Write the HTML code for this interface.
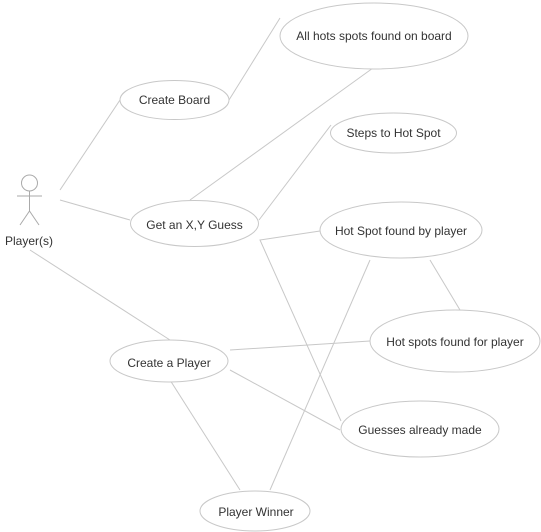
<!DOCTYPE html>
<html><head><style>body{margin:0;background:#fff}svg{display:block}text{font-family:"Liberation Sans",Arial,sans-serif;font-size:12px;fill:#333}</style></head><body>
<svg width="541" height="532" viewBox="0 0 541 532">
<g stroke="#c8c8c8" stroke-width="1" fill="none">
<line x1="60" y1="190" x2="120" y2="100"/>
<line x1="60" y1="200" x2="130" y2="220"/>
<line x1="30" y1="250" x2="170" y2="340"/>
<line x1="229" y1="100" x2="280" y2="18"/>
<line x1="190" y1="200" x2="373" y2="68"/>
<line x1="259" y1="220" x2="331" y2="125"/>
<polyline points="320,231 260,240 341,421"/>
<line x1="370" y1="260" x2="270" y2="490"/>
<line x1="430" y1="260" x2="460" y2="310"/>
<line x1="230" y1="350" x2="370" y2="341"/>
<line x1="230" y1="370" x2="340" y2="430"/>
<line x1="170" y1="380" x2="240" y2="490"/>
</g>
<g stroke="#c8c8c8" stroke-width="1" fill="#fff">
<ellipse cx="174.5" cy="100" rx="54.5" ry="19.5"/>
<ellipse cx="374" cy="36" rx="94" ry="33"/>
<ellipse cx="393.5" cy="133" rx="63" ry="20"/>
<ellipse cx="194.5" cy="223.5" rx="64" ry="23"/>
<ellipse cx="401" cy="230" rx="81" ry="28"/>
<ellipse cx="455" cy="341" rx="85" ry="31"/>
<ellipse cx="169" cy="361" rx="59" ry="21"/>
<ellipse cx="420" cy="429" rx="79" ry="28"/>
<ellipse cx="255" cy="511" rx="55" ry="20"/>
</g>
<g stroke="#aaa" stroke-width="1" fill="none">
<circle cx="29.5" cy="183" r="8"/>
<line x1="29.5" y1="191" x2="29.5" y2="211"/>
<line x1="17" y1="196" x2="42" y2="196"/>
<polyline points="20,225 29.5,211 39,225"/>
</g>
<text x="5" y="245">Player(s)</text>
<g text-anchor="middle">
<text x="174.5" y="104">Create Board</text>
<text x="374" y="40">All hots spots found on board</text>
<text x="393.5" y="137">Steps to Hot Spot</text>
<text x="194.5" y="229">Get an X,Y Guess</text>
<text x="401" y="235">Hot Spot found by player</text>
<text x="455" y="346">Hot spots found for player</text>
<text x="169" y="367">Create a Player</text>
<text x="420" y="434">Guesses already made</text>
<text x="256" y="516">Player Winner</text>
</g>
</svg>
</body></html>
